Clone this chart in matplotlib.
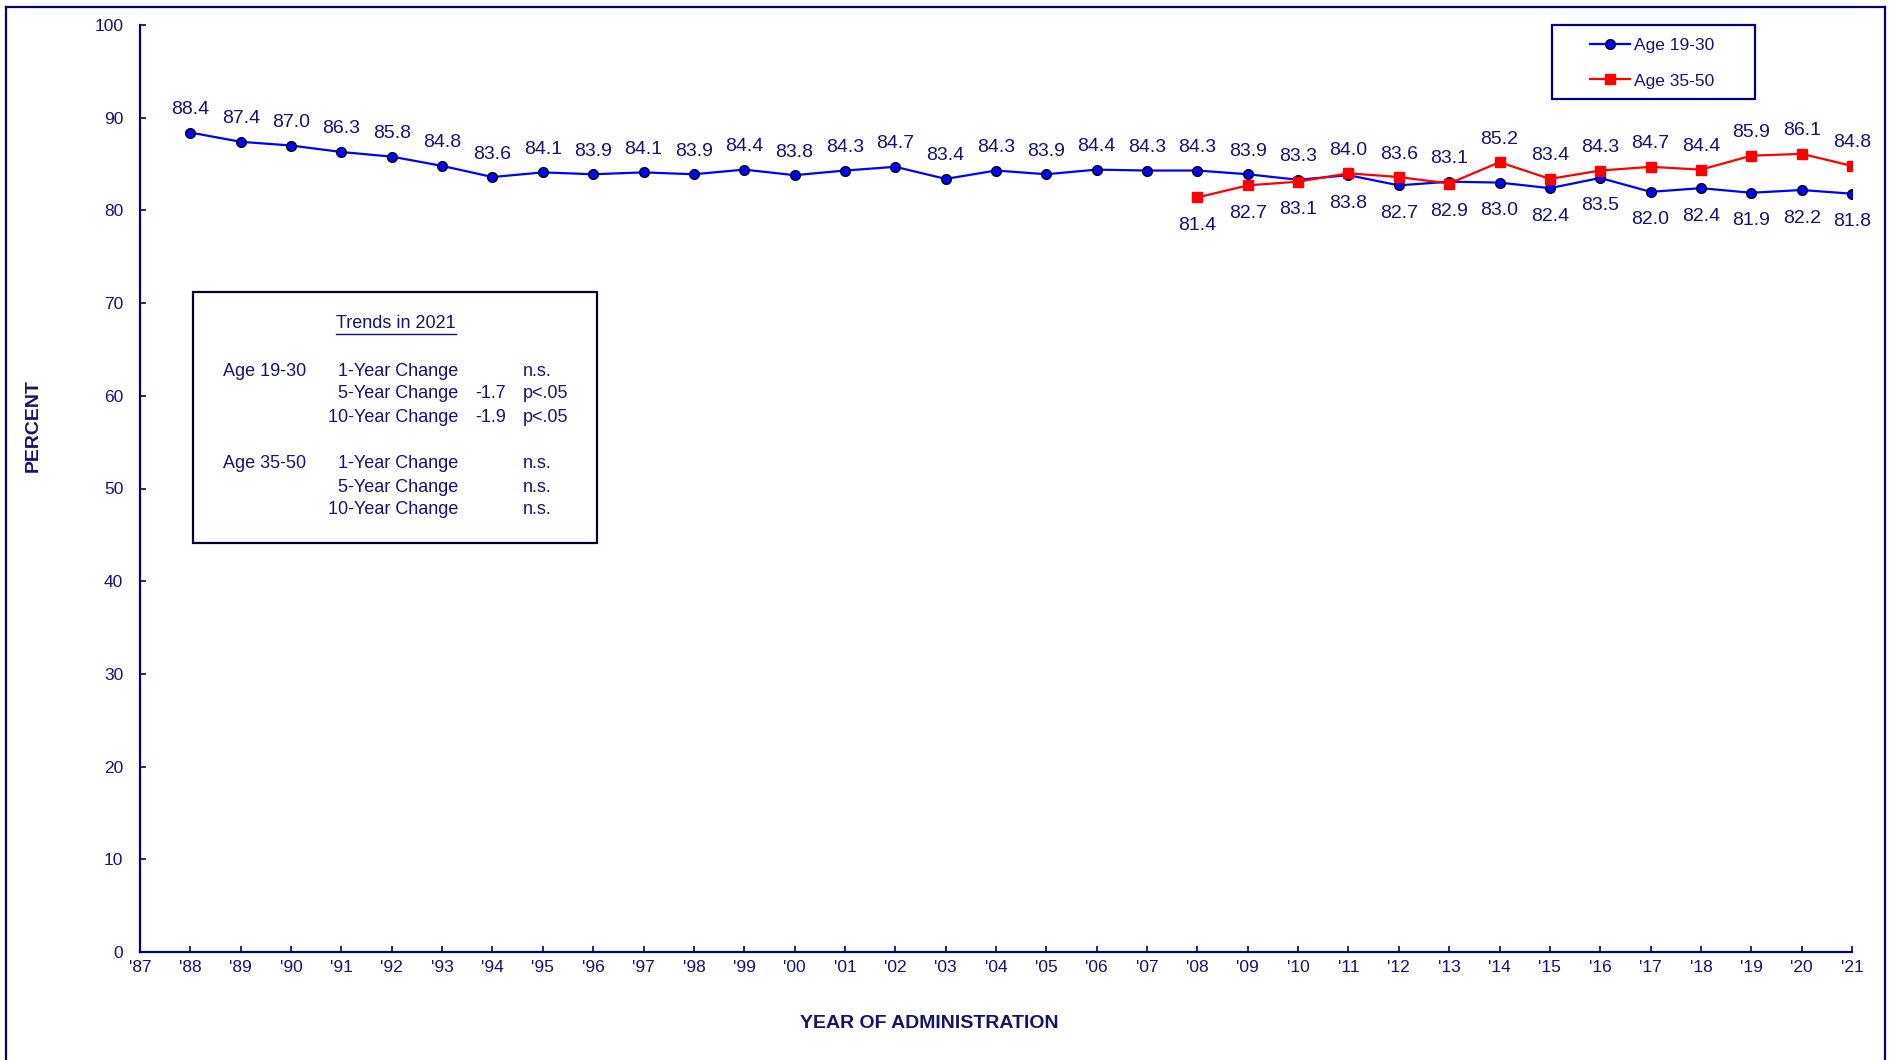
import matplotlib
matplotlib.use("Agg")
import matplotlib.pyplot as plt
from matplotlib.patches import Rectangle
from matplotlib.lines import Line2D

plt.rcParams['font.family'] = ['Liberation Sans', 'DejaVu Sans']

# ---- data ----
years_all = list(range(1987, 2022))
tick_labels = ["'" + str(y)[2:] for y in years_all]

years_1930 = list(range(1988, 2022))
age_19_30 = [88.4, 87.4, 87.0, 86.3, 85.8, 84.8, 83.6, 84.1, 83.9, 84.1,
             83.9, 84.4, 83.8, 84.3, 84.7, 83.4, 84.3, 83.9, 84.4, 84.3,
             84.3, 83.9, 83.3, 83.8, 82.7, 83.1, 83.0, 82.4, 83.5, 82.0,
             82.4, 81.9, 82.2, 81.8]

years_3550 = list(range(2008, 2022))
age_35_50 = [81.4, 82.7, 83.1, 84.0, 83.6, 82.9, 85.2, 83.4, 84.3, 84.7,
             84.4, 85.9, 86.1, 84.8]

series_names = ["Age 19-30", "Age 35-50"]

trend_title = "Trends in 2021"
trend_rows = [
    ("Age 19-30", "1-Year Change", "", "n.s."),
    ("", "5-Year Change", "-1.7", "p<.05"),
    ("", "10-Year Change", "-1.9", "p<.05"),
    ("Age 35-50", "1-Year Change", "", "n.s."),
    ("", "5-Year Change", "", "n.s."),
    ("", "10-Year Change", "", "n.s."),
]

# ---- style ----
NAVY = '#000080'
TXT = '#14146e'
W, H = 1892, 1060

fig = plt.figure(figsize=(W / 100, H / 100), dpi=100)
fig.patch.set_facecolor('white')

def fx(x):
    return x / W

def fy(y):
    return 1 - y / H

ax = fig.add_axes([fx(140), fy(952), fx(1852) - fx(140), fy(25) - fy(952)])
ax.set_xlim(1987, 2021)
ax.set_ylim(0, 100)

for s in ['top', 'right']:
    ax.spines[s].set_visible(False)
for s in ['left', 'bottom']:
    ax.spines[s].set_color(NAVY)
    ax.spines[s].set_linewidth(1.6)

ax.set_xticks(years_all)
ax.set_xticklabels(tick_labels)
ax.set_yticks(range(0, 101, 10))
ax.tick_params(axis='both', direction='in', length=4, width=1.2, color=NAVY,
               labelcolor=TXT, labelsize=12.5)
ax.tick_params(axis='y', pad=12)
ax.tick_params(axis='x', pad=6)

l1, = ax.plot(years_1930, age_19_30, color='#0000FF', lw=1.6, marker='o',
              markersize=7, markerfacecolor='#0000FF', markeredgecolor='black',
              markeredgewidth=1.0, zorder=3)
l2, = ax.plot(years_3550, age_35_50, color='#FF0000', lw=1.6, marker='s',
              markersize=7, markerfacecolor='#FF0000', markeredgecolor='#FF0000',
              zorder=4)

red_map = dict(zip(years_3550, age_35_50))
blue_map = dict(zip(years_1930, age_19_30))

def label(x, v, above):
    off = 23 if above else -28
    ax.annotate(f"{v:.1f}", (x, v), xytext=(0, off), textcoords='offset pixels',
                ha='center', va='center', fontsize=14, color=TXT)

for x, v in zip(years_1930, age_19_30):
    other = red_map.get(x)
    label(x, v, other is None or v >= other)
for x, v in zip(years_3550, age_35_50):
    other = blue_map.get(x)
    label(x, v, other is None or v > other)

# axis titles
fig.text(fx(33), fy(425), "PERCENT", rotation=90, ha='center', va='center',
         fontsize=14, fontweight='bold', color=TXT)
fig.text(fx(929), fy(1023), "YEAR OF ADMINISTRATION", ha='center', va='center',
         fontsize=14, fontweight='bold', color=TXT)

# legend
fig.patches.append(Rectangle((fx(1552), fy(99)), fx(1755) - fx(1552), fy(25) - fy(99),
                             transform=fig.transFigure, fill=False, edgecolor=NAVY,
                             linewidth=1.6, zorder=5))
leg = fig.legend([l1, l2], series_names, loc='center',
                 bbox_to_anchor=(fx(1652), fy(63)), bbox_transform=fig.transFigure,
                 frameon=False, fontsize=12.5, handlelength=2.3, handletextpad=0.25,
                 labelspacing=1.2, borderpad=0)
for t in leg.get_texts():
    t.set_color(TXT)

# trends box
fig.patches.append(Rectangle((fx(193), fy(543)), fx(597) - fx(193), fy(292) - fy(543),
                             transform=fig.transFigure, fill=False, edgecolor='#000033',
                             linewidth=1.6, zorder=5))
title_t = fig.text(fx(396), fy(323), trend_title, ha='center', va='center',
                   fontsize=13, color=TXT)
row_y = [371, 394, 417, 463, 487, 510]
for yy, (grp, lab, val, sig) in zip(row_y, trend_rows):
    if grp:
        fig.text(fx(223), fy(yy), grp, ha='left', va='center', fontsize=13, color=TXT)
    fig.text(fx(458), fy(yy), lab, ha='right', va='center', fontsize=13, color=TXT)
    if val:
        fig.text(fx(506), fy(yy), val, ha='right', va='center', fontsize=13, color=TXT)
    fig.text(fx(523), fy(yy), sig, ha='left', va='center', fontsize=13, color=TXT)

fig.canvas.draw()
bb = title_t.get_window_extent(fig.canvas.get_renderer())
uy = bb.y0 - 2
fig.lines.append(Line2D([bb.x0 / W, bb.x1 / W], [uy / H, uy / H],
                        transform=fig.transFigure, color=TXT, linewidth=1.0))

# outer frame (top, left, right)
for xs, ys in [((6, 1885), (7, 7)), ((6, 6), (7, 1060)), ((1885, 1885), (7, 1060))]:
    fig.lines.append(Line2D([fx(xs[0]), fx(xs[1])], [fy(ys[0]), fy(ys[1])],
                            transform=fig.transFigure, color=NAVY, linewidth=1.6))

fig.savefig("out.png", dpi=100)
